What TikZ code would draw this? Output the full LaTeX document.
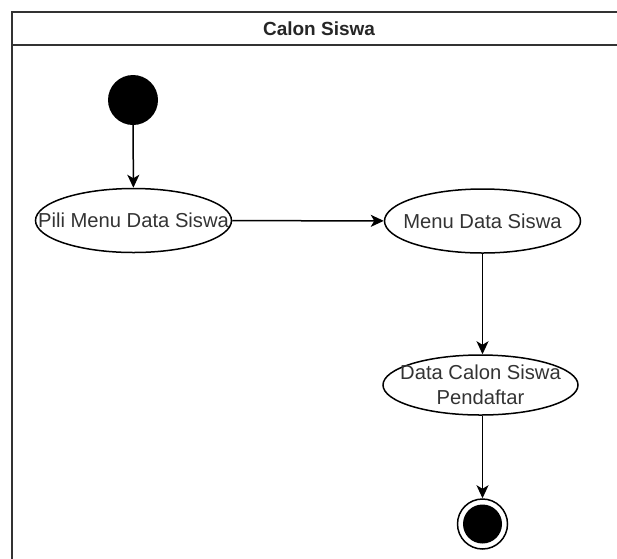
\documentclass[tikz,border=0pt]{standalone}
\usepackage{fontspec}
\setmainfont{Liberation Sans}
\usetikzlibrary{arrows.meta,shapes.geometric}
\begin{document}
\begin{tikzpicture}[x=1pt,y=-1pt,
  act/.style={draw=black,line width=1.5pt,ellipse,minimum width=196pt,minimum height=64pt,inner sep=0pt},
  lbl/.style={align=center,text=black!80,inner sep=0pt,font=\fontsize{20.2}{25}\selectfont},
  flow/.style={draw=black,line width=1.5pt,-{Stealth[length=13pt,width=12pt,inset=3.5pt]}},
  lane/.style={draw=black!80,line width=1.7pt}]
\useasboundingbox (0,0) rectangle (617,558);
\begin{scope}
\clip (0,0) rectangle (617,558);
\draw[lane] (12,570) -- (12,12) -- (625,12);
\draw[lane] (12,45) -- (625,45);
\node[font=\bfseries\fontsize{19}{23}\selectfont,text=black!85] (title) at (319,29) {Calon Siswa};
\node[circle,fill=black,minimum size=50pt,inner sep=0pt] (start) at (133,100) {};
\node[act] (a1) at (133.5,220.5) {};
\node[lbl] (t1) at (a1) {Pili Menu Data Siswa};
\node[act] (a2) at (482.5,221) {};
\node[lbl] (t2) at (a2) {Menu Data Siswa};
\node[act,minimum width=195pt,minimum height=60pt] (a3) at (480.5,385) {};
\node[lbl] (t3) at (a3) {Data Calon Siswa\\Pendaftar};
\node[circle,draw=black,line width=1.5pt,fill=white,minimum size=50pt,inner sep=0pt] (endo) at (482.5,524) {};
\node[circle,fill=black,minimum size=39pt,inner sep=0pt] (endi) at (482.5,524) {};
\draw[flow] (start) -- (a1);
\draw[flow] (a1) -- (a2);
\draw[flow] (a2.south) -- (a2.south |- a3.north);
\draw[flow] (a3.south -| endo) -- (endo);
\end{scope}
\end{tikzpicture}
\end{document}
